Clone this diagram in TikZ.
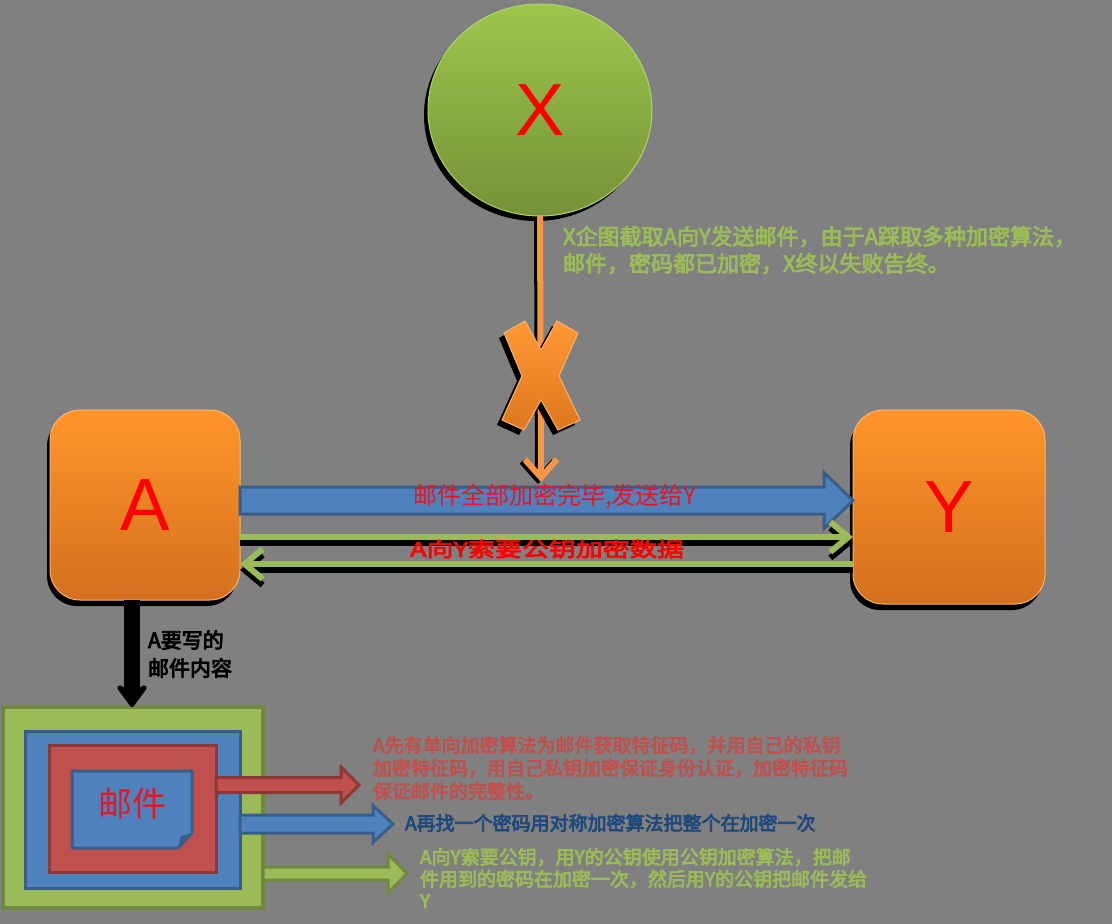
\documentclass[tikz,border=0pt]{standalone}
\usepackage{fontspec}
\setmainfont{Liberation Sans}
\newfontfamily\cjk{Noto Sans CJK SC}
\newfontfamily\cjkb[FakeBold=4]{Noto Sans CJK SC}
\newfontfamily\cjkw[FakeBold=4,FakeStretch=1.35]{Noto Sans CJK SC}
\usetikzlibrary{shapes.geometric,arrows.meta,calc,shadows}
\definecolor{bg}{RGB}{128,128,128}
\definecolor{otop}{RGB}{255,149,42}
\definecolor{obot}{RGB}{212,112,30}
\definecolor{oedge}{RGB}{250,180,110}
\definecolor{gtop}{RGB}{157,198,76}
\definecolor{gbot}{RGB}{116,146,56}
\definecolor{gedge}{RGB}{175,212,110}
\definecolor{ctop}{RGB}{255,152,52}
\definecolor{cbot}{RGB}{222,120,30}
\definecolor{oline}{RGB}{248,150,70}
\definecolor{mgreen}{RGB}{155,187,89}
\definecolor{mgreendk}{RGB}{113,137,63}
\definecolor{mblue}{RGB}{79,129,189}
\definecolor{mbluedk}{RGB}{56,93,138}
\definecolor{mred}{RGB}{192,80,77}
\definecolor{mreddk}{RGB}{140,56,54}
\definecolor{tblue}{RGB}{31,73,125}
\definecolor{hot}{RGB}{235,20,30}

\newcommand{\blockarr}[6]{%
  \draw[#1] ($(#2)+(0,-#4)$) -- ($(#3)+(-#5,-#4)$) -- ($(#3)+(-#5,-#6)$) -- (#3)
    -- ($(#3)+(-#5,#6)$) -- ($(#3)+(-#5,#4)$) -- ($(#2)+(0,#4)$) -- cycle;}

\begin{document}
\begin{tikzpicture}[x=1pt,y=-1pt]
    \tikzstyle{every node}=[inner sep=0pt, outer sep=0pt];
    \tikzstyle{party}=[rectangle, rounded corners=30, minimum width=190, minimum height=190, top color=otop, bottom color=obot, draw=oedge, line width=1, drop shadow={shadow xshift=-3pt, shadow yshift=-6pt, opacity=1, fill=black}, text=red, font=\fontsize{74}{80}\selectfont];
    \tikzstyle{ball}=[ellipse, minimum width=224, minimum height=212, top color=gtop, bottom color=gbot, draw=gedge, line width=1, drop shadow={shadow xshift=-4pt, shadow yshift=-5pt, opacity=1, fill=black}, text=red, font=\fontsize{74}{80}\selectfont];
    \tikzstyle{cross}=[top color=ctop, bottom color=cbot, draw=oedge, line width=1, drop shadow={shadow xshift=-5pt, shadow yshift=-5pt, opacity=1, fill=black}];
    \tikzstyle{layer}=[rectangle, line width=3];
    \tikzstyle{gline}=[draw=mgreen, line width=6];
    \tikzstyle{gshadow}=[draw=black, line width=6, transform canvas={yshift=-6pt}];
    \tikzstyle{note}=[anchor=west, align=left, font=\cjkb\fontsize{19}{23}\selectfont];
    \useasboundingbox (0,0) rectangle (1112,924);
    \fill[bg] (0,0) rectangle (1112,924);

    \node[ball] (X) at (540,110) {X};
    \node[party] (A) at (145,505) {A};
    \node[party, minimum width=192, minimum height=194] (Y) at (949,507) {\raisebox{-8pt}{Y}};

    \coordinate (hit) at (541,482);
    \draw[draw=black, line width=6, -{Straight Barb[length=18pt,width=32pt]}, transform canvas={xshift=-3pt,yshift=-2pt}] (X.south) -- (hit);
    \draw[draw=oline, line width=6, -{Straight Barb[length=18pt,width=32pt]}] (X.south) -- (hit);
    \draw[cross] (504,333) -- (525,321) -- (541,350) -- (557,321) -- (578,333) -- (559,376) -- (580,420) -- (558,430) -- (541,400) -- (524,430) -- (502,420) -- (522,376) -- cycle;

    \coordinate (b1) at ($(A.east)+(0,-4.5)$);
    \coordinate (b2) at (b1 -| Y.west);
    \blockarr{fill=mblue, draw=mbluedk, line width=3}{b1}{b2}{13.5}{29}{28}
    \coordinate (g1) at ($(A.east)+(0,32)$);
    \coordinate (g2) at (g1 -| Y.west);
    \coordinate (h1) at ($(A.east)+(0,59)$);
    \coordinate (h2) at (h1 -| Y.west);
    \draw[gshadow, -{Straight Barb[length=18pt,width=30pt]}] (g1) -- (g2);
    \draw[gline, -{Straight Barb[length=18pt,width=30pt]}] (g1) -- (g2);
    \draw[gshadow, {Straight Barb[length=18pt,width=30pt]}-] (h1) -- (h2);
    \draw[gline, {Straight Barb[length=18pt,width=30pt]}-] (h1) -- (h2);
    \node[text=hot, font=\cjk\fontsize{24}{28}\selectfont] (sendlab) at (555,497) {邮件全部加密完毕,发送给Y};
    \node[text=red, font=\cjkw\fontsize{20}{24}\selectfont] (asklab) at (547,549) {A向Y索要公钥加密数据};

    \node[layer, fill=mgreen, draw=mgreendk, line width=4, minimum width=260, minimum height=201] (outer) at (133,807.5) {};
    \node[layer, fill=mblue, draw=mbluedk, minimum width=215, minimum height=157] (inner) at (132.5,809.5) {};
    \node[layer, fill=mred, draw=mreddk, minimum width=167, minimum height=127] (core) at (132.5,808.5) {};
    \draw[draw=mbluedk, fill=mblue, line width=3, line join=round] (72,771) -- (192,771) -- (192,833) -- (178,848) -- (72,848) -- cycle;
    \fill[mbluedk] (192,833) -- (181,836) -- (178,848) -- cycle;
    \node[text=hot, font=\cjk\fontsize{34}{40}\selectfont] (mail) at (132,804) {邮件};

    \coordinate (k1) at ($(A.south)+(-13,0)$);
    \draw[black, line width=16, -{Stealth[length=26pt,width=38pt,inset=8pt,round]}] (k1) -- (k1 |- outer.north);
    \node[anchor=west, align=left, font=\cjkb\fontsize{21}{28}\selectfont] (what) at (148,654) {A要写的\\邮件内容};

    \coordinate (r1) at ($(core.east)+(0,-23.5)$);
    \coordinate (r2) at ($(r1)+(143,0)$);
    \blockarr{fill=mred, draw=mreddk, line width=3}{r1}{r2}{7.5}{18}{18}
    \coordinate (u1) at ($(inner.east)+(0,14.5)$);
    \coordinate (u2) at ($(u1)+(153,0)$);
    \blockarr{fill=mblue, draw=mbluedk, line width=3}{u1}{u2}{9}{20}{18.5}
    \coordinate (v1) at ($(outer.east)+(0,66)$);
    \coordinate (v2) at ($(v1)+(144,0)$);
    \blockarr{fill=mgreen, draw=mgreendk, line width=3}{v1}{v2}{6.5}{19}{19.5}

    \node[note, text=mgreen, font=\cjkb\fontsize{22}{27}\selectfont] (plot) at (563,250) {X企图截取A向Y发送邮件，由于A踩取多种加密算法，\\邮件，密码都已加密，X终以失败告终。};
    \node[note, text=mred] (step1) at (373,768) {A先有单向加密算法为邮件获取特征码，并用自己的私钥\\加密特征码，用自己私钥加密保证身份认证，加密特征码\\保证邮件的完整性。};
    \node[note, text=tblue] (step2) at (405,823) {A再找一个密码用对称加密算法把整个在加密一次};
    \node[note, text=mgreen, font=\cjkb\fontsize{19}{22}\selectfont] (step3) at (420,878) {A向Y索要公钥，用Y的公钥使用公钥加密算法，把邮\\件用到的密码在加密一次，然后用Y的公钥把邮件发给\\Y};
\end{tikzpicture}
\end{document}
